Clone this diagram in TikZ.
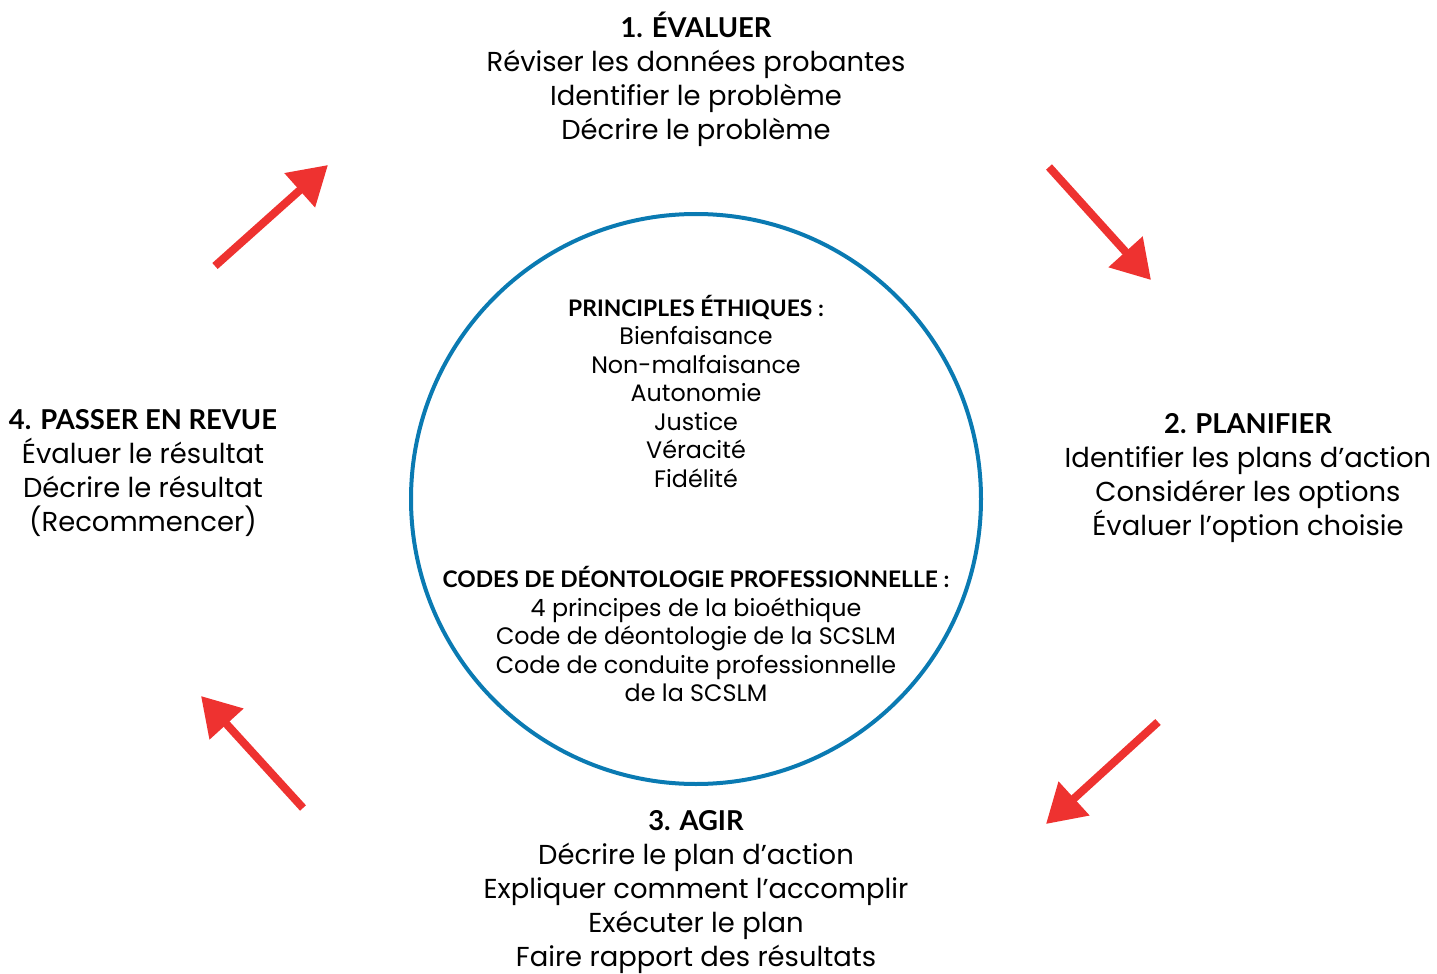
\documentclass[tikz,border=0pt]{standalone}
\usepackage{fontspec}
\setmainfont{Poppins}
\newfontfamily\headfont{Lato}
\usepackage{tikz}
\usetikzlibrary{positioning,arrows.meta}

\definecolor{ringblue}{RGB}{10,122,178}
\definecolor{cyclered}{RGB}{238,50,48}

% bold title line inside the ring
\newcommand{\corehead}[1]{{\headfont\bfseries\fontsize{11.4}{14.25}\selectfont #1}}

\begin{document}
\begin{tikzpicture}[
    x=0.5pt, y=-0.5pt,
    step text/.style={align=center, inner sep=0pt, font=\fontsize{13.7}{17}\selectfont},
    core text/.style={align=center, inner sep=0pt, font=\fontsize{11.9}{14.25}\selectfont},
    cycle arrow/.style={draw=cyclered, line width=4pt, -{Triangle[length=19pt, width=22pt]}}
  ]
    \useasboundingbox (0,0) rectangle (1437,974);

    % central ring with the ethical references
    \node[draw=ringblue, line width=2pt, circle, inner sep=0pt, minimum size=285pt] (ring) at (696,499) {};

    \node[core text] (principles) at (696,391) {%
      \corehead{PRINCIPLES ÉTHIQUES :}\\
      Bienfaisance\\ Non-malfaisance\\ Autonomie\\ Justice\\ Véracité\\ Fidélité};
    \node[core text] (codes) at (696,634) {%
      \corehead{CODES DE DÉONTOLOGIE PROFESSIONNELLE :}\\
      4 principes de la bioéthique\\ Code de déontologie de la SCSLM\\
      Code de conduite professionnelle\\ de la SCSLM};

    % the four steps around the ring
    \node[step text] (evaluer) at (696,79) {%
      {\headfont\bfseries 1. ÉVALUER}\\
      Réviser les données probantes\\ Identifier le problème\\ Décrire le problème};
    \node[step text] (planifier) at (1248,478) {%
      {\headfont\bfseries 2. PLANIFIER}\\
      Identifier les plans d’action\\ Considérer les options\\ Évaluer l’option choisie};
    \node[step text] (agir) at (696,892) {%
      {\headfont\bfseries 3. AGIR}\\
      Décrire le plan d’action\\ Expliquer comment l’accomplir\\
      Exécuter le plan\\ Faire rapport des résultats};
    \node[step text] (revue) at (143,473) {%
      {\headfont\bfseries 4. PASSER EN REVUE}\\
      Évaluer le résultat\\ Décrire le résultat\\ (Recommencer)};

    % arrow ends
    \coordinate (a1s) at (215,266);  \coordinate (a1e) at (328,165);
    \coordinate (a2s) at (1049,167); \coordinate (a2e) at (1151,280);
    \coordinate (a3s) at (1158,722); \coordinate (a3e) at (1046,824);
    \coordinate (a4s) at (303,808);  \coordinate (a4e) at (201,696);

    \draw[cycle arrow] (a1s) -- (a1e);
    \draw[cycle arrow] (a2s) -- (a2e);
    \draw[cycle arrow] (a3s) -- (a3e);
    \draw[cycle arrow] (a4s) -- (a4e);
  \end{tikzpicture}
\end{document}
